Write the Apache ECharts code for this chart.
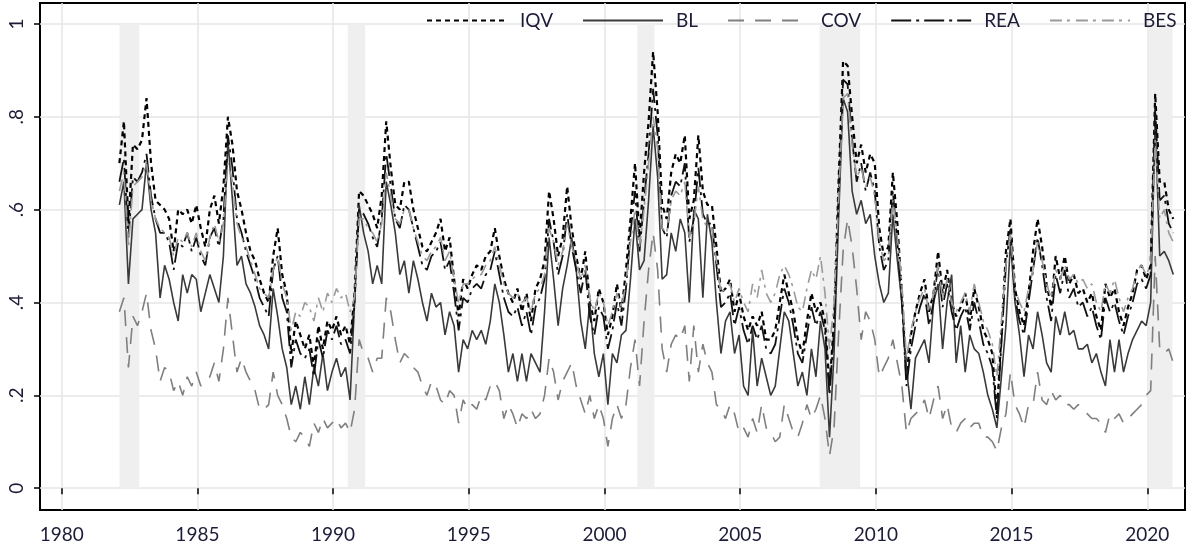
<!DOCTYPE html>
<html>
<head>
<meta charset="utf-8">
<script src="https://cdn.jsdelivr.net/npm/echarts@6/dist/echarts.min.js"></script>
<style>
  html, body { margin: 0; background: #fff; }
  #chart { width: 1194px; height: 548px; }
</style>
</head>
<body>
<div id="chart"></div>
<script>
// observations every second month, Feb 1982 .. Dec 2020
const firstYear = 1982;
const lastYear = 2020;
const obsMonths = [2, 4, 6, 8, 10, 12];

const xTicks = [1980, 1985, 1990, 1995, 2000, 2005, 2010, 2015, 2020];
const yTicks = [0, 0.2, 0.4, 0.6, 0.8, 1];

// shaded recession spells (decimal years)
const recessions = [
  [1982.13, 1982.86],
  [1990.54, 1991.18],
  [2001.21, 2001.84],
  [2007.93, 2009.42],
  [2020.05, 2020.93]
];

const seriesNames = ['IQV', 'BL', 'COV', 'REA', 'BES'];

const iqv = [
  .70,.79,.57,.74,.73,.75,  .84,.70,.62,.61,.60,.58,  .51,.60,.59,.60,.57,.61,
  .56,.52,.60,.63,.57,.65,  .80,.74,.64,.60,.55,.51,  .49,.45,.42,.40,.50,.56,
  .46,.42,.29,.36,.33,.30,  .33,.26,.35,.30,.36,.34,  .37,.33,.35,.31,.42,.64,
  .63,.61,.59,.56,.63,.79,  .69,.61,.60,.66,.66,.60,  .56,.52,.51,.53,.55,.58,
  .51,.54,.45,.37,.45,.43,  .46,.48,.47,.50,.51,.56,  .50,.45,.42,.40,.43,.38,
  .42,.36,.43,.45,.49,.64,  .58,.50,.54,.65,.56,.50,  .45,.51,.40,.36,.43,.40,
  .33,.37,.44,.38,.47,.58,  .70,.54,.68,.79,.94,.81,  .61,.58,.68,.72,.70,.76,
  .58,.62,.76,.64,.61,.61,  .52,.42,.43,.45,.38,.42,  .37,.34,.37,.35,.38,.32,
  .32,.34,.40,.46,.42,.38,  .32,.29,.36,.42,.38,.40,  .36,.22,.36,.66,.92,.91,
  .80,.70,.74,.68,.72,.70,  .56,.50,.52,.68,.57,.42,  .24,.33,.38,.42,.45,.38,
  .42,.51,.42,.47,.40,.37,  .39,.42,.36,.43,.39,.34,  .32,.29,.16,.33,.51,.58,
  .43,.38,.35,.42,.51,.58,  .52,.44,.39,.50,.45,.50,  .44,.46,.42,.43,.40,.42,
  .37,.34,.44,.41,.43,.38,  .35,.39,.42,.47,.48,.45,  .48,.85,.66,.66,.60,.58
];

const bl = [
  .61,.66,.44,.58,.59,.60,  .70,.60,.55,.41,.48,.45,  .40,.36,.46,.42,.46,.45,
  .38,.42,.46,.43,.40,.50,  .75,.62,.48,.50,.44,.42,  .39,.35,.33,.30,.43,.37,
  .30,.26,.18,.22,.17,.24,  .18,.26,.22,.29,.21,.25,  .28,.24,.26,.19,.40,.61,
  .55,.51,.44,.48,.44,.66,  .61,.55,.46,.49,.42,.49,  .45,.40,.36,.42,.39,.40,
  .33,.38,.35,.25,.32,.30,  .34,.32,.34,.31,.36,.44,  .40,.33,.25,.29,.23,.29,
  .23,.29,.27,.25,.38,.54,  .45,.35,.43,.48,.54,.47,  .36,.30,.40,.29,.24,.29,
  .18,.29,.27,.33,.34,.45,  .58,.47,.49,.62,.78,.67,  .45,.46,.55,.51,.58,.55,
  .40,.60,.58,.41,.59,.53,  .40,.29,.36,.38,.29,.33,  .22,.20,.34,.22,.28,.24,
  .20,.22,.30,.38,.36,.29,  .22,.25,.20,.30,.24,.36,  .30,.11,.29,.58,.84,.81,
  .64,.59,.62,.57,.59,.50,  .44,.40,.42,.59,.49,.40,  .26,.17,.28,.30,.32,.27,
  .40,.44,.30,.40,.46,.27,  .35,.25,.33,.30,.29,.25,  .20,.17,.13,.24,.35,.53,
  .40,.33,.24,.33,.30,.38,  .33,.27,.25,.37,.33,.38,  .33,.34,.30,.30,.31,.27,
  .29,.25,.22,.32,.25,.32,  .25,.29,.32,.34,.36,.35,  .40,.79,.50,.51,.49,.46
];

const cov = [
  .38,.41,.26,.37,.35,.38,  .42,.34,.30,.23,.26,.25,  .21,.23,.20,.24,.22,.25,
  .22,.23,.24,.27,.23,.30,  .41,.33,.25,.28,.25,.23,  .21,.17,.17,.18,.25,.20,
  .18,.15,.11,.10,.12,.11,  .09,.14,.12,.15,.13,.14,  .15,.13,.14,.12,.17,.32,
  .29,.28,.25,.28,.28,.41,  .38,.32,.27,.29,.28,.26,  .25,.22,.20,.23,.22,.19,
  .18,.21,.20,.14,.19,.17,  .18,.17,.20,.19,.22,.23,  .21,.15,.18,.16,.13,.16,
  .15,.17,.15,.16,.20,.28,  .25,.19,.23,.25,.27,.22,  .19,.16,.20,.15,.18,.15,
  .09,.15,.18,.15,.18,.26,  .32,.22,.36,.47,.55,.47,  .30,.25,.31,.33,.32,.35,
  .23,.35,.25,.31,.27,.25,  .18,.17,.15,.18,.16,.12,  .13,.11,.15,.12,.18,.13,
  .12,.10,.11,.18,.15,.12,  .11,.14,.18,.15,.17,.20,  .15,.07,.13,.33,.51,.58,
  .52,.43,.32,.38,.36,.32,  .24,.26,.28,.32,.27,.22,  .12,.15,.16,.17,.19,.15,
  .19,.22,.15,.18,.13,.12,  .14,.15,.13,.14,.14,.11,  .11,.10,.08,.13,.16,.25,
  .18,.16,.13,.18,.18,.25,  .19,.18,.21,.19,.20,.18,  .18,.17,.18,.17,.16,.15,
  .15,.14,.12,.16,.15,.16,  .14,.15,.16,.17,.18,.20,  .21,.50,.30,.29,.30,.27
];

const rea = [
  .66,.71,.54,.67,.66,.68,  .72,.63,.58,.55,.55,.53,  .47,.53,.52,.55,.51,.54,
  .50,.48,.54,.56,.52,.58,  .76,.69,.58,.55,.51,.48,  .45,.41,.39,.37,.47,.50,
  .41,.38,.26,.32,.29,.28,  .30,.24,.32,.28,.34,.32,  .35,.31,.32,.29,.40,.60,
  .59,.57,.54,.52,.58,.72,  .65,.58,.56,.61,.60,.56,  .52,.48,.47,.50,.51,.53,
  .47,.49,.42,.34,.41,.40,  .43,.44,.43,.46,.47,.51,  .46,.41,.38,.37,.39,.35,
  .38,.33,.39,.41,.45,.58,  .53,.46,.50,.59,.52,.47,  .42,.47,.37,.33,.39,.37,
  .30,.34,.40,.35,.43,.55,  .64,.51,.62,.72,.86,.76,  .56,.54,.63,.66,.65,.70,
  .53,.58,.69,.59,.57,.57,  .48,.39,.40,.42,.35,.39,  .34,.31,.35,.32,.35,.30,
  .29,.31,.37,.43,.40,.35,  .29,.27,.33,.39,.35,.38,  .34,.20,.34,.63,.88,.87,
  .75,.66,.70,.64,.68,.64,  .52,.47,.49,.64,.53,.40,  .22,.30,.35,.39,.42,.35,
  .40,.48,.39,.44,.38,.34,  .37,.39,.34,.40,.36,.31,  .29,.26,.15,.31,.48,.56,
  .41,.36,.33,.40,.47,.54,  .48,.41,.36,.46,.42,.47,  .41,.43,.39,.40,.37,.39,
  .35,.32,.41,.38,.40,.36,  .33,.37,.40,.44,.45,.43,  .46,.82,.62,.63,.57,.55
];

const bes = [
  .64,.68,.52,.65,.66,.67,  .70,.62,.58,.56,.55,.54,  .50,.54,.53,.55,.52,.55,
  .51,.49,.54,.57,.53,.57,  .70,.66,.57,.54,.52,.49,  .46,.43,.42,.41,.47,.50,
  .44,.41,.34,.38,.37,.40,  .39,.36,.41,.38,.42,.40,  .43,.41,.42,.38,.41,.58,
  .58,.56,.55,.53,.57,.68,  .63,.58,.57,.60,.60,.56,  .53,.50,.49,.51,.52,.54,
  .49,.51,.45,.40,.44,.44,  .45,.46,.46,.48,.49,.52,  .48,.44,.42,.41,.42,.40,
  .41,.38,.42,.43,.46,.56,  .53,.48,.51,.57,.52,.49,  .45,.48,.41,.38,.42,.40,
  .35,.38,.42,.39,.44,.53,  .60,.52,.60,.70,.80,.73,  .56,.55,.62,.64,.63,.66,
  .54,.57,.65,.58,.56,.56,  .49,.42,.43,.44,.40,.43,  .40,.38,.44,.41,.47,.42,
  .40,.42,.46,.48,.46,.43,  .39,.38,.43,.47,.45,.50,  .42,.30,.40,.62,.84,.85,
  .74,.67,.69,.65,.67,.63,  .53,.49,.50,.62,.54,.44,  .28,.34,.38,.41,.43,.38,
  .42,.48,.41,.45,.40,.38,  .40,.42,.38,.44,.40,.36,  .34,.31,.24,.36,.48,.55,
  .43,.40,.38,.43,.47,.53,  .49,.44,.41,.47,.45,.48,  .45,.46,.44,.45,.43,.44,
  .40,.38,.44,.42,.45,.41,  .38,.41,.43,.47,.48,.46,  .48,.75,.58,.60,.55,.53
];

// decimal-year date of each observation (mid-month)
const dates = [];
for (let y = firstYear; y <= lastYear; y++) {
  obsMonths.forEach(m => dates.push(y + (m - 0.5) / 12));
}
const pairs = vals => vals.map((v, i) => [dates[i], v]);

const font = 'Lato, "Open Sans", sans-serif';
const textColor = '#1c1c38';
const gridColor = '#e6e6e6';

const lineStyles = {
  IQV: { color: '#000000', width: 2.2, type: [5, 4] },
  BL:  { color: '#3a3a3a', width: 1.6, type: 'solid' },
  COV: { color: '#7f7f7f', width: 1.6, type: [16, 11] },
  REA: { color: '#111111', width: 1.8, type: [20, 5, 3, 5] },
  BES: { color: '#9a9a9a', width: 1.6, type: [12, 5, 3, 6] }
};
const values = { IQV: iqv, BL: bl, COV: cov, REA: rea, BES: bes };

const series = seriesNames.map((name, k) => {
  const s = {
    name: name,
    type: 'line',
    symbol: 'none',
    data: pairs(values[name]),
    lineStyle: lineStyles[name],
    itemStyle: { color: lineStyles[name].color },
    z: 3 + k
  };
  if (k === 0) {
    s.markArea = {
      silent: true,
      itemStyle: { color: '#efefef' },
      data: recessions.map(r => [{ xAxis: r[0], yAxis: 0 }, { xAxis: r[1], yAxis: 1 }])
    };
  }
  return s;
});

const chart = echarts.init(document.getElementById('chart'));
chart.setOption({
  animation: false,
  backgroundColor: '#ffffff',
  grid: {
    left: 40, right: 9, top: 3, bottom: 38,
    show: true, borderColor: '#000', borderWidth: 2, backgroundColor: 'transparent'
  },
  legend: {
    left: 426, top: 11, width: 780, padding: 0,
    itemWidth: 80, itemHeight: 14, itemGap: 29,
    itemStyle: { opacity: 0 },
    textStyle: { fontFamily: font, fontSize: 19, color: textColor, padding: [0, 0, 0, 8] },
    data: seriesNames
  },
  xAxis: {
    type: 'value',
    min: 1979.2, max: 2021.39,
    minInterval: 5, maxInterval: 5,
    axisLine: { show: false },
    axisTick: { show: true, length: 6, customValues: xTicks, lineStyle: { color: '#000', width: 1.5 } },
    axisLabel: {
      customValues: xTicks,
      margin: 15, fontFamily: font, fontSize: 19, color: textColor,
      formatter: v => String(v)
    },
    splitLine: { show: true, lineStyle: { color: gridColor, width: 1.5 } }
  },
  yAxis: {
    type: 'value',
    min: -0.047, max: 1.045,
    minInterval: 0.2, maxInterval: 0.2,
    axisLine: { show: false },
    axisTick: { show: true, length: 6, customValues: yTicks, lineStyle: { color: '#000', width: 1.5 } },
    axisLabel: {
      customValues: yTicks,
      rotate: 90, margin: 14, fontFamily: font, fontSize: 19, color: textColor,
      formatter: v => (v === 0 ? '0' : v === 1 ? '1' : String(+v.toFixed(1)).replace(/^0/, ''))
    },
    splitLine: { show: true, lineStyle: { color: gridColor, width: 1.5 } }
  },
  series: series
});
</script>
</body>
</html>
